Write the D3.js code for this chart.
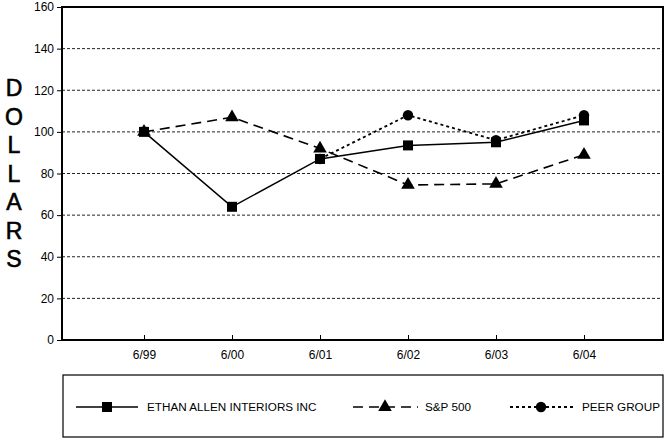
<!DOCTYPE html>
<html><head><meta charset="utf-8">
<script src="https://cdn.jsdelivr.net/npm/d3@7"></script>
<style>body{margin:0;background:#fff}svg{display:block}text{font-family:"Liberation Sans",Arial,sans-serif;fill:#000}</style>
</head><body>
<svg id="c" width="667" height="440"></svg>
<script>
const categories = ["6/99","6/00","6/01","6/02","6/03","6/04"];
const ethanAllen = [100, 64, 87, 93.5, 95, 105.5];
const sp500 = [100, 107, 92, 74.5, 75, 89];
const peerGroup = [null, null, 87, 108, 96, 108];
const yTicks = [0,20,40,60,80,100,120,140,160];
const seriesNames = ["ETHAN ALLEN INTERIORS INC","S&P 500","PEER GROUP"];
const axisTitle = "DOLLARS";

const svg = d3.select("#c");
const L = 62, R = 663, T = 7, B = 340;
const x = d3.scaleLinear().domain([-82/88, 5 + 79/88]).range([L, R]);
const y = d3.scaleLinear().domain([0,160]).range([B, T]);

// gridlines
svg.append("g").selectAll("line").data(yTicks.filter(d=>d>0&&d<160)).join("line")
  .attr("x1",L).attr("x2",R).attr("y1",d=>y(d)).attr("y2",d=>y(d))
  .attr("stroke","#222").attr("stroke-width",1).attr("stroke-dasharray","3,2");

// y axis labels
const ya = svg.append("g").attr("transform",`translate(${L},0)`)
  .call(d3.axisLeft(y).tickValues(yTicks).tickSize(5).tickPadding(3));
ya.select(".domain").remove();
ya.selectAll("line").attr("stroke","#000");
ya.selectAll("text").attr("font-size",12).attr("font-family","Liberation Sans, Arial, sans-serif");

// x axis
const xa = svg.append("g").attr("transform",`translate(0,${B})`)
  .call(d3.axisTop(x).tickValues(d3.range(categories.length)).tickFormat(i=>categories[i]).tickSize(5));
xa.select(".domain").remove();
xa.selectAll("line").attr("stroke","#000");
xa.selectAll("text").attr("y",15).attr("dy","0.36em").attr("font-size",12).attr("font-family","Liberation Sans, Arial, sans-serif");

// frame
svg.append("rect").attr("x",L).attr("y",T).attr("width",R-L).attr("height",B-T)
  .attr("fill","none").attr("stroke","#000").attr("stroke-width",2);

// axis title
svg.append("g").selectAll("text").data(axisTitle.split("")).join("text")
  .attr("x",14).attr("y",(d,i)=>88+i*28.5).attr("dy","0.36em").attr("text-anchor","middle")
  .attr("font-size",23).attr("stroke","#000").attr("stroke-width",0.6).text(d=>d);

const styles = [
  {data: ethanAllen, dash: null, w:1.5, sym: d3.symbolSquare, size: 100},
  {data: sp500, dash: "10,6", w:1.6, sym: d3.symbolTriangle, size: 80},
  {data: peerGroup, dash: "3,3", w:1.8, sym: d3.symbolCircle, size: 85},
];
const line = d3.line().defined(d=>d[1]!=null).x(d=>x(d[0])).y(d=>y(d[1]));
styles.forEach(s=>{
  const pts = s.data.map((v,i)=>[i,v]);
  svg.append("path").datum(pts).attr("d",line).attr("fill","none").attr("stroke","#000")
    .attr("stroke-width",s.w).attr("stroke-dasharray",s.dash);
  svg.append("g").selectAll("path").data(pts.filter(p=>p[1]!=null)).join("path")
    .attr("d",d3.symbol(s.sym,s.size)).attr("transform",p=>`translate(${x(p[0])},${y(p[1])})`).attr("fill","#000");
});

// legend
svg.append("rect").attr("x",63).attr("y",375).attr("width",600).attr("height",62)
  .attr("fill","none").attr("stroke","#000").attr("stroke-width",1.2);
const leg = [{x0:76,x1:138,m:107,t:147},{x0:353,x1:418,m:385,t:425},{x0:510,x1:576,m:541,t:582}];
leg.forEach((g,i)=>{
  const s = styles[i];
  svg.append("line").attr("x1",g.x0).attr("x2",g.x1).attr("y1",407).attr("y2",407)
    .attr("stroke","#000").attr("stroke-width",s.w).attr("stroke-dasharray",s.dash);
  svg.append("path").attr("d",d3.symbol(s.sym,s.size)()).attr("transform",`translate(${g.m},407)`).attr("fill","#000");
  svg.append("text").attr("x",g.t).attr("y",407).attr("dy","0.36em").attr("font-size",11.7).text(seriesNames[i]);
});
</script>
</body></html>
